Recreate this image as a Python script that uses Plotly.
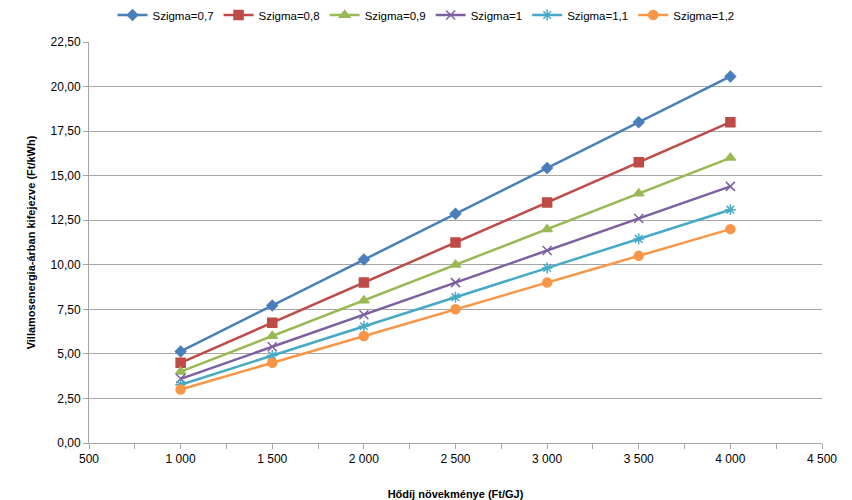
import plotly.graph_objects as go

x_vals = [1000, 1500, 2000, 2500, 3000, 3500, 4000]
names = ["Szigma=0,7", "Szigma=0,8", "Szigma=0,9", "Szigma=1", "Szigma=1,1", "Szigma=1,2"]
s07 = [5.14, 7.71, 10.29, 12.86, 15.43, 18.00, 20.57]
s08 = [4.50, 6.75, 9.00, 11.25, 13.50, 15.75, 18.00]
s09 = [4.00, 6.00, 8.00, 10.00, 12.00, 14.00, 16.00]
s10 = [3.60, 5.40, 7.20, 9.00, 10.80, 12.60, 14.40]
s11 = [3.27, 4.91, 6.55, 8.18, 9.82, 11.45, 13.09]
s12 = [3.00, 4.50, 6.00, 7.50, 9.00, 10.50, 12.00]
series = [s07, s08, s09, s10, s11, s12]

colors = ["#4A7EBB", "#BE4B48", "#98B954", "#7D60A0", "#46AAC5", "#F79646"]
symbols = ["diamond", "square", "triangle-up", "x-thin-open", "asterisk-open", "circle"]
msizes = [8, 9, 9, 9, 9, 9]

fig = go.Figure()
for n, ys, c, s, ms in zip(names, series, colors, symbols, msizes):
    fig.add_trace(go.Scatter(
        x=x_vals, y=ys, name=n, mode="lines+markers",
        line=dict(color=c, width=2.5),
        marker=dict(symbol=s, size=ms, color=c, line=dict(color=c, width=1.5)),
    ))

fig.update_layout(
    width=852, height=500,
    margin=dict(l=89, r=30, t=42, b=57, autoexpand=False),
    paper_bgcolor="white", plot_bgcolor="white",
    separators=", ",
    font=dict(family="Liberation Sans Narrow, Liberation Sans, Arial", size=11, color="#000000"),
    legend=dict(orientation="h", x=0.5, xanchor="center", xref="container",
                y=0.97, yanchor="middle", yref="container",
                font=dict(size=11.5), itemwidth=30, tracegroupgap=0),
    showlegend=True,
)
fig.update_xaxes(
    range=[500, 4500], dtick=500, tick0=500, tickformat=",d",
    tickfont=dict(size=12),
    showgrid=False, showline=True, linecolor="#A6A6A6", linewidth=1,
    ticks="outside", ticklen=5, tickcolor="#A6A6A6",
    minor=dict(dtick=250, tick0=500, ticks="outside", ticklen=5, tickcolor="#A6A6A6", showgrid=False),
    title=dict(text="<b>Hődíj növekménye (Ft/GJ)</b>", font=dict(size=11), standoff=24),
    zeroline=False,
)
fig.update_yaxes(
    range=[0, 22.5], dtick=2.5, tickformat=".2f",
    tickfont=dict(size=12),
    showgrid=True, gridcolor="#A6A6A6", gridwidth=1,
    showline=True, linecolor="#A6A6A6", linewidth=1,
    ticks="outside", ticklen=5, tickcolor="#A6A6A6",
    title=dict(text="<b>Villamosenergia-árban kifejezve (Ft/kWh)</b>", font=dict(size=11), standoff=12),
    zeroline=False,
)

fig.write_html("out.html")
